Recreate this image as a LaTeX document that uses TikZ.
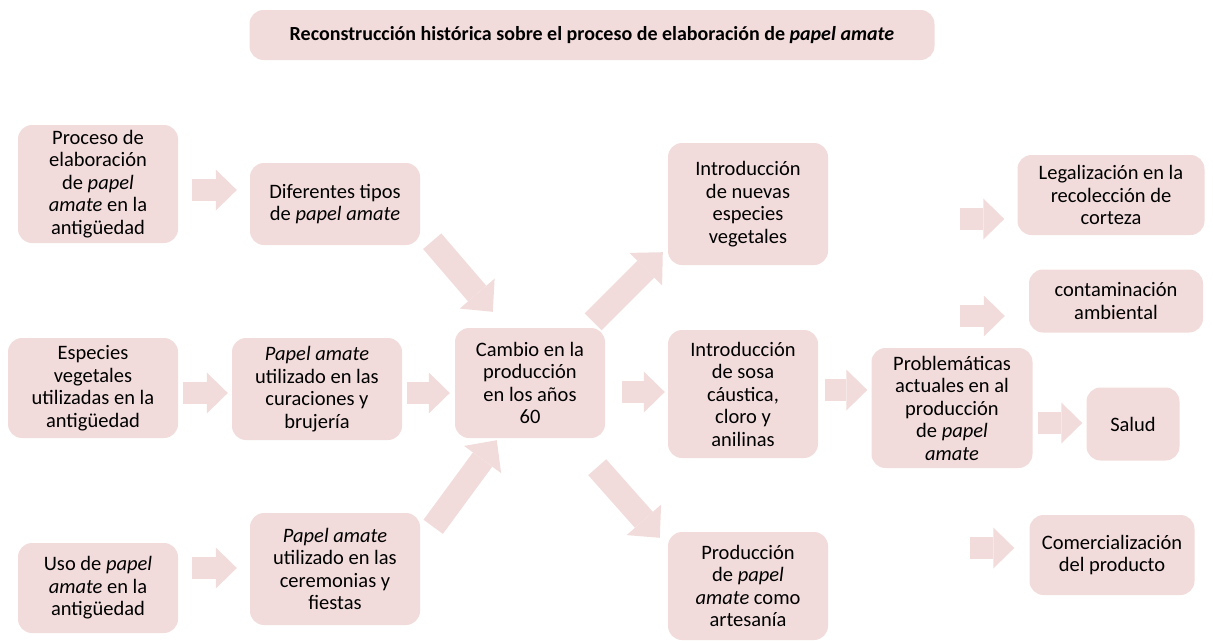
\documentclass[tikz,border=0pt]{standalone}
\usepackage{fontspec}
\setmainfont{Carlito}
\usepackage{tikz}
\usetikzlibrary{arrows.meta}
\definecolor{boxpink}{RGB}{242,220,219}

\begin{document}
\begin{tikzpicture}[x=1pt,y=-1pt,
    box/.style={rectangle,rounded corners=14pt,fill=boxpink,align=center,inner sep=2pt,
        font=\fontsize{20.5}{22.5}\selectfont},
    blk/.style={draw=boxpink,line width=22pt,-{Triangle[length=21pt,width=41pt,line width=0pt]}},
    diag/.style={draw=boxpink,line width=24pt,-{Triangle[length=24pt,width=46pt,line width=0pt]}}]
    \useasboundingbox (0,0) rectangle (1213,640);
    \node[box,minimum width=685pt,minimum height=50pt,font=\fontsize{20}{22}\selectfont\bfseries] (title) at (592,35)
        {Reconstrucción histórica sobre el proceso de elaboración de \textit{papel amate}};
    \node[box,minimum width=160pt,minimum height=118pt] (a1) at (98,184)
        {Proceso de\\elaboración\\de \textit{papel}\\\textit{amate} en la\\antigüedad};
    \node[box,minimum width=170pt,minimum height=100pt] (a2) at (93,388)
        {Especies\\vegetales\\utilizadas en la\\antigüedad};
    \node[box,minimum width=160pt,minimum height=90pt] (a3) at (98,588)
        {Uso de \textit{papel}\\\textit{amate} en la\\antigüedad};
    \node[box,minimum width=170pt,minimum height=82pt] (b1) at (335,204)
        {Diferentes tipos\\de \textit{papel amate}};
    \node[box,minimum width=170pt,minimum height=102pt] (b2) at (317,389)
        {\textit{Papel amate}\\utilizado en las\\curaciones y\\brujería};
    \node[box,minimum width=170pt,minimum height=112pt] (b3) at (335,569)
        {\textit{Papel amate}\\utilizado en las\\ceremonias y\\fiestas};
    \node[box,minimum width=150pt,minimum height=110pt] (c) at (530,383)
        {Cambio en la\\producción\\en los años\\60};
    \node[box,minimum width=160pt,minimum height=122pt] (d1) at (748,204)
        {Introducción\\de nuevas\\especies\\vegetales};
    \node[box,minimum width=150pt,minimum height=128pt] (d2) at (743,394)
        {Introducción\\de sosa\\cáustica,\\cloro y\\anilinas};
    \node[box,minimum width=160pt,minimum height=108pt] (d3) at (748,586)
        {Producción\\de \textit{papel}\\\textit{amate} como\\artesanía};
    \node[box,minimum width=161pt,minimum height=120pt] (e) at (952,408)
        {Problemáticas\\actuales en al\\producción\\de \textit{papel}\\\textit{amate}};
    \node[box,minimum width=187pt,minimum height=80pt] (f1) at (1111,195)
        {Legalización en la\\recolección de\\corteza};
    \node[box,minimum width=174pt,minimum height=63pt] (f2) at (1116,301)
        {contaminación\\ambiental};
    \node[box,minimum width=93pt,minimum height=73pt] (f3) at (1133,424)
        {Salud};
    \node[box,minimum width=165pt,minimum height=80pt] (f4) at (1112,555)
        {Comercialización\\del producto};
    \draw[blk,shorten <=14pt,shorten >=13pt] (a1.east |- 0,190) -- (b1.west |- 0,190);
    \draw[blk,shorten <=5pt,shorten >=4pt] (a2.east |- 0,393) -- (b2.west |- 0,393);
    \draw[blk,shorten <=14pt,shorten >=13pt] (a3.east |- 0,568) -- (b3.west |- 0,568);
    \draw[blk,shorten <=5pt,shorten >=5pt] (b2.east |- 0,393) -- (c.west |- 0,393);
    \draw[diag] (b1.south east) ++(12,-4) -- ([xshift=38pt,yshift=16pt]c.north west);
    \draw[diag] (b3.north east) ++(13,14) -- ([xshift=42pt,yshift=-2pt]c.south west);
    \draw[diag] (c.north east) ++(-12,-6) -- ([xshift=-5pt,yshift=13pt]d1.south west);
    \draw[blk,shorten <=17pt,shorten >=3pt] (c.east |- 0,392) -- (d2.west |- 0,392);
    \draw[diag] (c.south east) ++(-8,29) -- ([xshift=-8pt,yshift=-6pt]d3.north west);
    \draw[blk,shorten <=7pt,shorten >=4pt] (d2.east |- 0,390) -- (e.west |- 0,390);
    \draw[blk,shorten <=5pt,shorten >=4pt] (e.east |- 0,423) -- (f3.west |- 0,423);
    \draw[blk] (960,219) -- ([xshift=-13pt]f1.west |- 0,219);
    \draw[blk] (960,316) -- ([xshift=-24pt]f2.west |- 0,316);
    \draw[blk] (970,548) -- ([xshift=-15pt]f4.west |- 0,548);
\end{tikzpicture}
\end{document}
